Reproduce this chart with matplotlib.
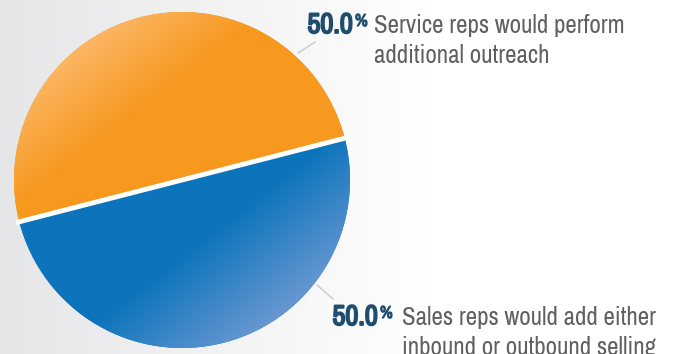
import numpy as np
import matplotlib.pyplot as plt
import matplotlib.patheffects as pe
from matplotlib import font_manager
from matplotlib.colors import to_rgb

# data
shares = [50.0, 50.0]
pct_labels = ['50.0', '50.0']
descriptions = [['Service reps would perform', 'additional outreach'],
                ['Sales reps would add either', 'inbound or outbound selling']]
base_colors = ['#F7981F', '#0C74BB']
light_colors = ['#FDC17C', '#7A9ED5']

# pick a narrow font if one is installed
names = sorted({f.name for f in font_manager.fontManager.ttflist})
narrow = [n for n in names if 'Narrow' in n or 'Condensed' in n]
fam = narrow[:1] + ['DejaVu Sans']
stretch = 'normal' if narrow else 'condensed'

W, H = 681, 354
fig = plt.figure(figsize=(W / 100, H / 100), dpi=100)
ax = fig.add_axes([0, 0, 1, 1])

# background: light gray on the left fading to white
xs = np.arange(W)
t = np.clip(xs / 430, 0, 1)[None, :, None]
bg = np.array(to_rgb('#E5E6E7')) * (1 - t) + np.array(to_rgb('#FFFFFF')) * t
ax.imshow(np.repeat(bg, 2, axis=0), extent=[0, W, 0, H], aspect='auto', zorder=0)

cx, cy, r = 182, H - 180, 168
wedges, _ = ax.pie(shares, colors=base_colors, startangle=14.4, counterclock=True,
                   center=(cx, cy), radius=r, frame=True,
                   wedgeprops=dict(linewidth=0))
ax.set_xlim(0, W)
ax.set_ylim(0, H)
ax.set_aspect('auto')
ax.axis('off')

# gradients inside each slice
gx, gy = np.meshgrid(np.linspace(cx - r, cx + r, 300), np.linspace(cy + r, cy - r, 300))
px, py = gx, H - gy  # pixel coords, y down


def grad(p0, d, L, ca, cb):
    d = np.array(d) / np.hypot(*d)
    s = np.clip(((px - p0[0]) * d[0] + (py - p0[1]) * d[1]) / L, 0, 1)[..., None]
    return np.array(to_rgb(ca)) * (1 - s) + np.array(to_rgb(cb)) * s


img_orange = grad((55, 25), (1, 1.3), 120, light_colors[0], base_colors[0])
img_blue = grad((195, 245), (0.7, 0.9), 130, base_colors[1], light_colors[1])
for w, img in zip(wedges, [img_orange, img_blue]):
    im = ax.imshow(img, extent=[cx - r, cx + r, cy - r, cy + r], aspect='auto', zorder=1)
    im.set_clip_path(w)

# white gap along the split
a = np.deg2rad(wedges[0].theta1)
ax.plot([cx - r * 1.02 * np.cos(a), cx + r * 1.02 * np.cos(a)],
        [cy - r * 1.02 * np.sin(a), cy + r * 1.02 * np.sin(a)],
        color='white', lw=3.5, solid_capstyle='butt', zorder=2)

num_color = '#1E4D6E'
txt_color = '#5F6062'
bold_fx = [pe.withStroke(linewidth=1.3, foreground=num_color)]

# (number right edge, baseline y, text left x) in pixels
label_pos = [(353, 33, 374), (378, 325, 402)]
leaders = [((298, 53), (315, 42)), ((317, 285), (333, 299))]

for (xr, yb, xt), num, desc, (p0, p1) in zip(label_pos, pct_labels, descriptions, leaders):
    ax.text(xr, H - yb, num, ha='right', va='baseline', fontsize=20.5,
            fontweight='bold', color=num_color, family=fam, fontstretch=stretch,
            path_effects=bold_fx, zorder=3)
    ax.text(xr + 2, H - yb + 7, '%', ha='left', va='baseline', fontsize=12.5,
            fontweight='bold', color=num_color, family=fam, fontstretch=stretch,
            path_effects=[pe.withStroke(linewidth=0.8, foreground=num_color)], zorder=3)
    for i, line in enumerate(desc):
        ax.text(xt, H - yb - 30 * i, line, ha='left', va='baseline', fontsize=18,
                color=txt_color, family=fam, fontstretch=stretch, zorder=3)
    ax.plot([p0[0], p1[0]], [H - p0[1], H - p1[1]], color='#C8C9CA', lw=1, zorder=3)

fig.savefig('out.png', dpi=100)
